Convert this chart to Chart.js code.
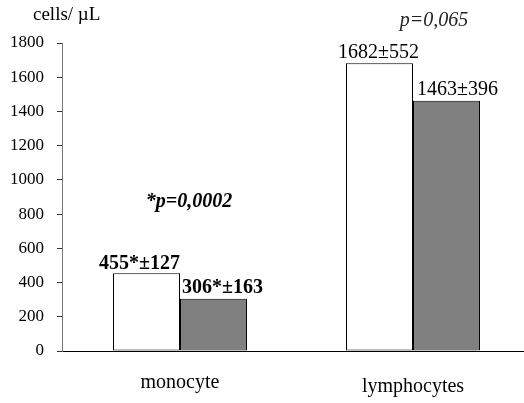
<!DOCTYPE html>
<html>
<head>
<meta charset="utf-8">
<script src="https://cdn.jsdelivr.net/npm/chart.js@4/dist/chart.umd.min.js"></script>
<style>
html,body{margin:0;padding:0;background:#fff;overflow:hidden;}
#wrap{width:524px;height:403px;position:relative;}
</style>
</head>
<body>
<div id="wrap"><canvas id="c" width="524" height="403"></canvas></div>
<script>
const categories = ["monocyte", "lymphocytes"];
const groupA = [455, 1682];          // white bars
const groupB = [306, 1463];          // grey bars
const sdA = [127, 552];
const sdB = [163, 396];
const starred = [true, false];
const pLabels = ["*p=0,0002", "p=0,065"];
const yTicks = [0, 200, 400, 600, 800, 1000, 1200, 1400, 1600, 1800];
const yUnit = "cells/ \u00b5L";

const FONT = "'Liberation Serif', 'Times New Roman', serif";

function valueLabel(v, sd, star) {
  return v + (star ? "*" : "") + "\u00b1" + sd;
}

const labelPlugin = {
  id: "labels",
  afterDatasetsDraw(chart) {
    const ctx = chart.ctx;
    const x = chart.scales.x;
    ctx.save();
    ctx.fillStyle = "#000";
    ctx.textBaseline = "alphabetic";
    const mA = chart.getDatasetMeta(0), mB = chart.getDatasetMeta(1);
    categories.forEach((c, i) => {
      const bold = starred[i] ? "bold " : "";
      ctx.font = bold + "20px " + FONT;
      const a = mA.data[i], b = mB.data[i];
      const la = valueLabel(groupA[i], sdA[i], starred[i]);
      const lb = valueLabel(groupB[i], sdB[i], starred[i]);
      if (starred[i]) { ctx.textAlign = "right"; ctx.fillText(la, a.x + a.width / 2, a.y - 4); }
      else { ctx.textAlign = "center"; ctx.fillText(la, a.x - 1, a.y - 5); }
      ctx.textAlign = "left";
      ctx.fillText(lb, b.x - b.width / 2 + (starred[i] ? 2 : 4), b.y - 6);
    });
    ctx.textAlign = "center";
    ctx.font = "bold italic 20px " + FONT;
    ctx.fillText(pLabels[0], x.getPixelForValue(0) + 9, 207);
    ctx.font = "italic 20px " + FONT;
    ctx.fillStyle = "#222";
    ctx.fillText(pLabels[1], x.getPixelForValue(1) + 21, 26);
    ctx.fillStyle = "#000";
    ctx.textAlign = "left";
    ctx.font = "19px " + FONT;
    ctx.fillText(yUnit, 33, 20);
    ctx.restore();
  }
};

new Chart(document.getElementById("c"), {
  type: "bar",
  data: {
    datasets: [
      {
        data: groupA.map((v, i) => ({ x: i, y: v })),
        backgroundColor: "#ffffff",
        borderColor: "#000000",
        borderWidth: 1,
        borderSkipped: false
      },
      {
        data: groupB.map((v, i) => ({ x: i, y: v })),
        backgroundColor: "#808080",
        borderColor: "#000000",
        borderWidth: 1,
        borderSkipped: false
      }
    ]
  },
  options: {
    responsive: false,
    animation: false,
    events: [],
    categoryPercentage: 0.575,
    barPercentage: 1.0,
    layout: { padding: { top: 43, right: 0, bottom: 0, left: 0 } },
    plugins: { legend: { display: false }, tooltip: { enabled: false } },
    scales: {
      x: {
        type: "linear",
        offset: false,
        bounds: "data",
        min: -0.5064,
        max: 1.4764,
        grid: { display: false, drawTicks: false, offset: false },
        border: { display: true, color: "#000", width: 1 },
        afterBuildTicks(scale) { scale.ticks = categories.map((c, i) => ({ value: i })); },
        afterFit(scale) { scale.height = 52; },
        ticks: {
          padding: 20,
          maxRotation: 0,
          autoSkip: false,
          color: "#000",
          font: (ctx) => ({ family: FONT, size: 20, lineHeight: ctx.index === 1 ? 1.6 : 1.2 }),
          callback: (v) => categories[v]
        }
      },
      y: {
        min: 0,
        max: 1800,
        afterBuildTicks(scale) { scale.ticks = yTicks.map(v => ({ value: v })); },
        afterFit(scale) { scale.width = 62; },
        grid: { display: true, drawOnChartArea: false, drawTicks: true, tickLength: 5, color: "#333" },
        border: { display: true, color: "#777", width: 1 },
        ticks: {
          padding: 13,
          color: "#000",
          font: { family: FONT, size: 17 },
          callback: (v) => String(v)
        }
      }
    }
  },
  plugins: [labelPlugin]
});
</script>
</body>
</html>
